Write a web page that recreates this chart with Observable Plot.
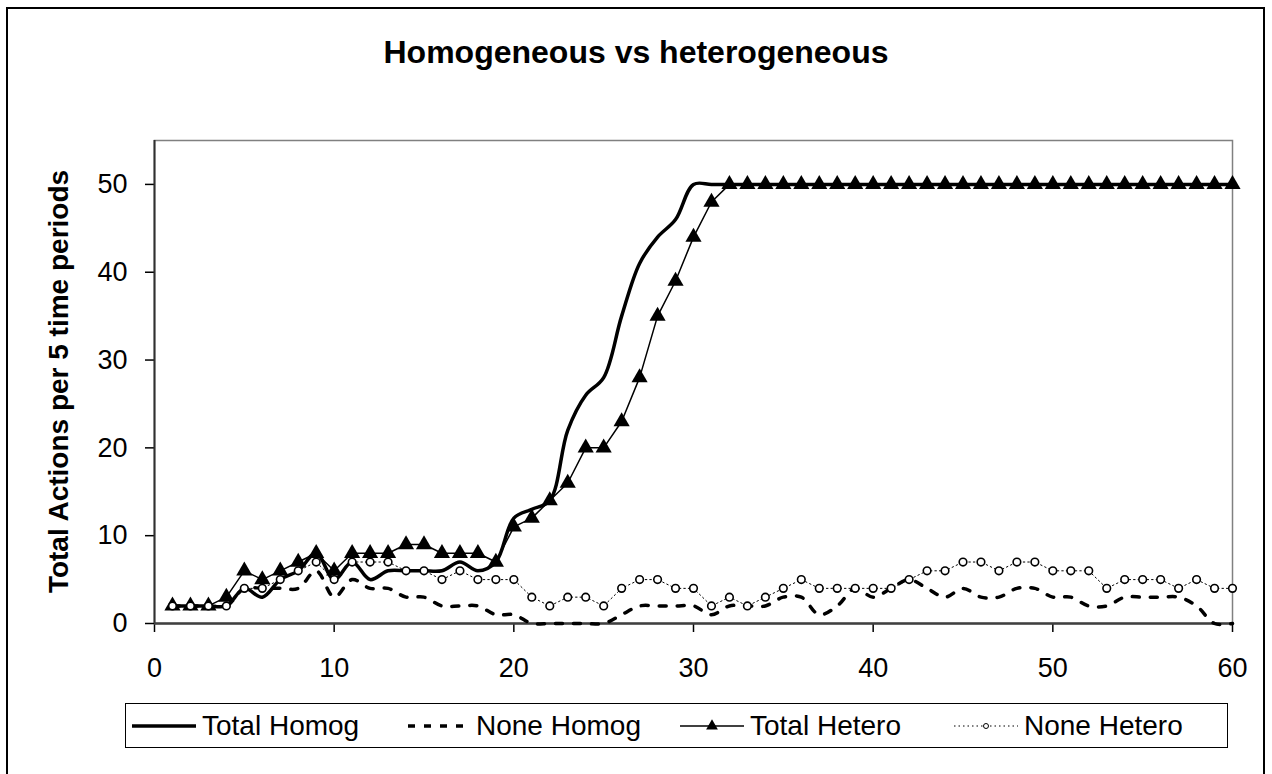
<!DOCTYPE html>
<html><head><meta charset="utf-8">
<script src="https://cdn.jsdelivr.net/npm/d3@7"></script>
<script src="https://cdn.jsdelivr.net/npm/@observablehq/plot@0.6"></script>
<style>
body{margin:0;background:#fff;font-family:"Liberation Sans",Arial,sans-serif;}
#wrap{position:relative;width:1272px;height:774px;overflow:hidden;background:#fff;}
#frame{position:absolute;left:6px;top:7px;width:1259px;height:820px;border:2px solid #000;box-sizing:border-box;}
#title{position:absolute;left:0;top:36px;width:1272px;text-align:center;font-weight:bold;font-size:32px;line-height:32px;}
#chart{position:absolute;left:0;top:0;}
#legend{position:absolute;left:125px;top:703px;width:1103px;height:45px;border:1.5px solid #000;box-sizing:border-box;display:grid;grid-template-columns:repeat(4,274px);align-items:center;padding-left:6px;font-size:28px;white-space:nowrap;background:#fff;}
#legend .it{display:flex;align-items:center;}
#legend svg{margin-right:6px;}
</style></head>
<body><div id="wrap"><div id="frame"></div><div id="chart"></div><div id="title">Homogeneous vs heterogeneous</div><div id="legend"></div></div>
<script>
const periods = [1,2,3,4,5,6,7,8,9,10,11,12,13,14,15,16,17,18,19,20,21,22,23,24,25,26,27,28,29,30,31,32,33,34,35,36,37,38,39,40,41,42,43,44,45,46,47,48,49,50,51,52,53,54,55,56,57,58,59,60];
const totalHomog = [2,2,2,2,4,3,5,6,8,5, 7,5,6,6,6,6,7,6,7,12, 13,14,22,26,28,35,41,44,46,50, 50,50,50,50,50,50,50,50,50,50, 50,50,50,50,50,50,50,50,50,50, 50,50,50,50,50,50,50,50,50,50];
const noneHomog = [2,2,2,2,4,4,4,4,6,3, 5,4,4,3,3,2,2,2,1,1, 0,0,0,0,0,1,2,2,2,2, 1,2,2,2,3,3,1,2,4,3, 4,5,4,3,4,3,3,4,4,3, 3,2,2,3,3,3,3,2,0,0];
const totalHetero = [2,2,2,3,6,5,6,7,8,6, 8,8,8,9,9,8,8,8,7,11, 12,14,16,20,20,23,28,35,39,44, 48,50,50,50,50,50,50,50,50,50, 50,50,50,50,50,50,50,50,50,50, 50,50,50,50,50,50,50,50,50,50];
const noneHetero = [2,2,2,2,4,4,5,6,7,5, 7,7,7,6,6,5,6,5,5,5, 3,2,3,3,2,4,5,5,4,4, 2,3,2,3,4,5,4,4,4,4, 4,5,6,6,7,7,6,7,7,6, 6,6,4,5,5,5,4,5,4,4];
const seriesNames = ["Total Homog","None Homog","Total Hetero","None Hetero"];
const xTicks = [0,10,20,30,40,50,60];
const yTicks = [0,10,20,30,40,50];
const titleText = "Homogeneous vs heterogeneous";
const yLabel = "Total Actions per 5 time periods";

const data = periods.map((p,i)=>({p, th: totalHomog[i], nh: noneHomog[i], tt: totalHetero[i], nt: noneHetero[i]}));

const chart = Plot.plot({
  width:1272, height:700,
  marginLeft:154, marginRight:40, marginTop:140, marginBottom:77,
  style:{fontFamily:"'Liberation Sans', Arial, sans-serif", fontSize:"27px", color:"#000", background:"transparent", overflow:"visible"},
  x:{domain:[0,60]},
  y:{domain:[0,55]},
  marks:[
    Plot.frame({stroke:"#808080", strokeWidth:1.5}),
    Plot.axisX({ticks:xTicks, tickSize:9, tickPadding:25, label:null, stroke:"#000", strokeWidth:1.5}),
    Plot.axisY({ticks:yTicks, tickSize:9, tickPadding:18, label:null, stroke:"#000", strokeWidth:1.5}),
    Plot.ruleX([0], {stroke:"#303030", strokeWidth:2}),
    Plot.ruleY([0], {stroke:"#404040", strokeWidth:2.5}),
    Plot.line(data, {x:"p", y:"th", curve:"catmull-rom", stroke:"#000", strokeWidth:3.5}),
    Plot.line(data, {x:"p", y:"nh", curve:"catmull-rom", stroke:"#000", strokeWidth:3.5, strokeDasharray:"7,11"}),
    Plot.line(data, {x:"p", y:"tt", stroke:"#000", strokeWidth:1.5}),
    Plot.dot(data, {x:"p", y:"tt", symbol:"triangle", r:6, fill:"#000", stroke:"none"}),
    Plot.line(data, {x:"p", y:"nt", stroke:"#000", strokeWidth:1, strokeDasharray:"1.5,3"}),
    Plot.dot(data, {x:"p", y:"nt", r:3.8, fill:"#fff", stroke:"#000", strokeWidth:1.6})
  ]
});
document.getElementById("chart").appendChild(chart);
document.getElementById("title").textContent = titleText;
d3.select(chart).append("text")
  .attr("transform", `translate(68,${(140+623)/2}) rotate(-90)`)
  .attr("text-anchor","middle")
  .attr("font-weight","bold")
  .attr("font-size","28px")
  .attr("fill","#000")
  .text(yLabel);

// legend
const leg = d3.select("#legend");
const samples = [
  g => g.append("line").attr("x1",0).attr("x2",64).attr("y1",10).attr("y2",10).attr("stroke","#000").attr("stroke-width",3.5),
  g => g.append("line").attr("x1",2).attr("x2",64).attr("y1",10).attr("y2",10).attr("stroke","#000").attr("stroke-width",3.5).attr("stroke-dasharray","7,9"),
  g => { g.append("line").attr("x1",0).attr("x2",64).attr("y1",10).attr("y2",10).attr("stroke","#000").attr("stroke-width",1.5);
         g.append("path").attr("d", d3.symbol(d3.symbolTriangle, 60)()).attr("transform","translate(32,10)").attr("fill","#000"); },
  g => { g.append("line").attr("x1",0).attr("x2",64).attr("y1",10).attr("y2",10).attr("stroke","#000").attr("stroke-width",1).attr("stroke-dasharray","1.5,3");
         g.append("circle").attr("cx",32).attr("cy",10).attr("r",2.5).attr("fill","#fff").attr("stroke","#000").attr("stroke-width",1); }
];
seriesNames.forEach((name,i)=>{
  const it = leg.append("div").attr("class","it");
  const s = it.append("svg").attr("width",64).attr("height",20);
  samples[i](s);
  it.append("span").text(name);
});
</script></body></html>
